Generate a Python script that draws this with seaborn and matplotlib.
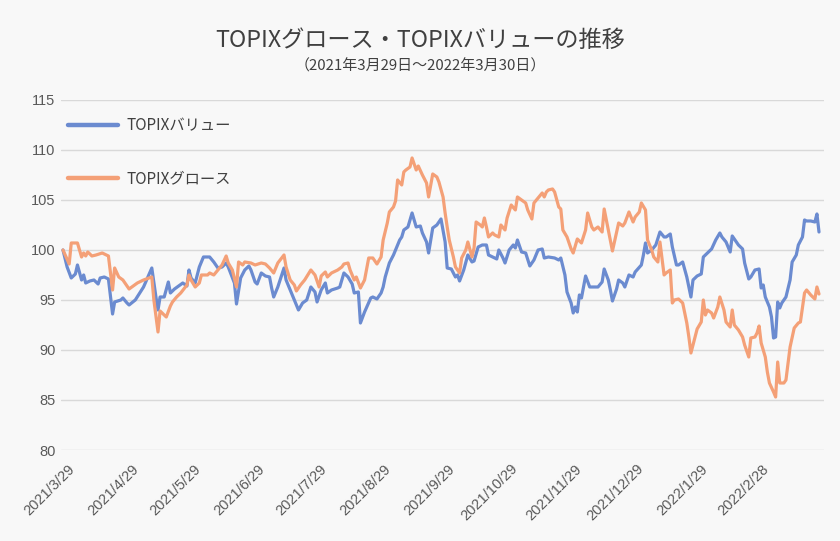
import pandas as pd
import matplotlib
matplotlib.use('Agg')
import matplotlib.pyplot as plt
import matplotlib.transforms as mtransforms
from matplotlib import font_manager
import seaborn as sns

# Series (x = calendar days since 2021-03-29)
start_date = '2021-03-29'
value_label = 'TOPIXバリュー'
growth_label = 'TOPIXグロース'

value_days = [0, 2, 4, 6, 7, 9, 10, 11, 13, 15, 17, 18, 20, 22, 24, 25, 28, 29, 31, 32,
              35, 39, 43, 45, 46, 47, 49, 51, 52, 54, 58, 60, 61, 62, 64, 66, 68, 71, 73, 75,
              77, 79, 80, 83, 84, 86, 88, 90, 91, 93, 94, 96, 98, 100, 101, 102, 104, 107, 108, 110,
              112, 114, 116, 118, 120, 122, 123, 125, 127, 128, 130, 133, 134, 136, 138, 140, 141, 143, 144, 146,
              149, 150, 152, 154, 155, 156, 158, 160, 161, 163, 164, 165, 167, 169, 171, 173, 174, 176, 177, 179,
              181, 183, 185, 186, 188, 190, 191, 192, 194, 196, 198, 199, 201, 203, 205, 206, 208, 210, 211, 213,
              214, 216, 218, 219, 220, 222, 224, 226, 228, 230, 232, 233, 235, 238, 240, 241, 243, 244, 246, 247,
              248, 249, 250, 251, 253, 255, 257, 259, 261, 262, 264, 265, 266, 268, 269, 271, 272, 274, 276, 277,
              280, 281, 282, 283, 285, 287, 289, 291, 292, 294, 295, 297, 298, 300, 302, 304, 305, 307, 309, 310,
              311, 312, 314, 316, 318, 319, 321, 323, 324, 326, 327, 329, 330, 332, 333, 335, 337, 338, 339, 340,
              342, 343, 344, 345, 346, 347, 348, 350, 352, 353, 355, 356, 358, 359, 360, 362, 364, 365, 366]
value_idx = [100.0, 98.3, 97.2, 97.6, 98.5, 97.0, 97.5, 96.7, 96.9, 97.0, 96.6, 97.2, 97.3, 97.1, 93.6, 94.8, 95.0, 95.2, 94.7, 94.5,
             95.0, 96.3, 98.2, 95.3, 94.0, 95.3, 95.3, 96.8, 95.7, 96.1, 96.7, 96.4, 98.0, 97.2, 96.7, 98.3, 99.3, 99.3, 98.8, 98.2,
             98.3, 98.7, 98.3, 96.7, 94.6, 97.2, 98.0, 98.4, 98.0, 96.8, 96.6, 97.7, 97.4, 97.3, 96.2, 95.3, 96.3, 98.2, 97.0, 96.0,
             95.0, 94.0, 94.7, 95.0, 96.3, 95.8, 94.8, 96.0, 96.7, 95.7, 96.0, 96.2, 96.3, 97.7, 97.3, 96.6, 95.7, 95.8, 92.7, 93.8,
             95.2, 95.3, 95.1, 95.7, 96.3, 97.3, 98.7, 99.5, 100.0, 101.0, 101.3, 102.0, 102.3, 103.7, 102.3, 102.4, 101.7, 100.8, 99.7, 102.2,
             102.5, 103.1, 100.8, 98.2, 98.1, 97.3, 97.5, 96.9, 98.0, 99.5, 98.8, 98.9, 100.3, 100.5, 100.5, 99.5, 99.3, 99.1, 100.0, 99.2,
             98.7, 100.0, 100.5, 100.2, 101.0, 99.8, 99.7, 98.4, 99.0, 100.0, 100.1, 99.2, 99.3, 99.2, 99.0, 99.2, 97.5, 95.8, 94.7, 93.7,
             94.3, 93.8, 95.5, 95.2, 97.4, 96.3, 96.3, 96.3, 96.8, 98.1, 97.0, 96.0, 94.9, 96.1, 97.0, 96.7, 96.3, 97.5, 97.3, 97.8,
             98.5, 99.5, 100.7, 99.7, 100.0, 100.5, 101.8, 101.3, 101.3, 101.6, 100.3, 98.5, 98.5, 98.8, 97.3, 95.3, 97.0, 97.4, 97.6, 99.3,
             99.5, 99.7, 100.1, 101.0, 101.7, 101.3, 100.8, 99.8, 101.4, 100.8, 100.5, 100.1, 98.7, 97.1, 97.3, 98.0, 98.1, 96.2, 96.5, 95.3,
             94.3, 93.3, 91.2, 91.3, 94.8, 94.2, 94.7, 95.3, 97.0, 98.8, 99.5, 100.5, 101.3, 103.0, 102.9, 102.9, 102.8, 103.6, 101.8]

growth_days = [0, 3, 4, 7, 9, 10, 11, 12, 14, 16, 19, 22, 24, 25, 27, 29, 32, 36, 39, 43,
               44, 46, 47, 49, 50, 52, 53, 55, 57, 60, 61, 62, 64, 66, 67, 70, 71, 73, 75, 77,
               79, 80, 82, 84, 85, 87, 88, 91, 93, 96, 98, 100, 102, 104, 107, 108, 110, 112, 113, 115,
               117, 120, 122, 124, 125, 127, 128, 130, 133, 135, 136, 138, 139, 141, 142, 144, 146, 148, 150, 152,
               154, 155, 157, 158, 160, 161, 162, 164, 165, 166, 168, 169, 171, 172, 174, 176, 177, 179, 181, 182,
               184, 185, 186, 187, 189, 190, 192, 193, 195, 196, 198, 199, 200, 202, 203, 204, 205, 206, 208, 209,
               211, 212, 214, 215, 217, 219, 220, 222, 224, 225, 227, 228, 230, 232, 233, 234, 235, 237, 238, 240,
               241, 242, 244, 246, 247, 249, 251, 253, 254, 256, 257, 259, 261, 262, 264, 265, 266, 268, 269, 271,
               272, 274, 276, 277, 279, 280, 282, 283, 285, 286, 288, 289, 291, 292, 294, 295, 296, 298, 300, 302,
               303, 304, 306, 307, 309, 310, 311, 312, 314, 315, 317, 318, 320, 321, 323, 324, 325, 327, 329, 330,
               332, 333, 335, 336, 337, 338, 340, 341, 342, 344, 345, 346, 347, 349, 350, 352, 354, 356, 357, 359,
               360, 362, 364, 365, 366]
growth_idx = [100.0, 98.6, 100.7, 100.7, 99.3, 99.7, 99.4, 99.8, 99.4, 99.5, 99.7, 99.4, 96.0, 98.2, 97.3, 97.0, 96.1, 96.7, 97.0, 97.3,
              95.0, 91.8, 93.9, 93.5, 93.3, 94.4, 94.8, 95.3, 95.7, 96.5, 97.5, 97.0, 96.3, 96.7, 97.5, 97.5, 97.7, 97.5, 98.0, 98.5,
              99.4, 98.7, 98.0, 96.3, 98.8, 98.5, 98.8, 98.7, 98.5, 98.7, 98.6, 98.2, 97.7, 98.7, 99.5, 98.3, 97.0, 96.5, 95.9, 96.5,
              97.0, 98.0, 97.5, 96.3, 97.4, 97.8, 97.3, 97.7, 98.0, 98.3, 98.6, 98.7, 98.0, 97.0, 97.3, 96.2, 97.0, 99.2, 99.2, 98.6,
              99.3, 101.0, 102.7, 103.8, 104.3, 104.9, 107.0, 106.5, 107.8, 108.0, 108.3, 109.2, 108.0, 108.4, 107.5, 106.7, 105.3, 107.6, 107.3, 106.8,
              105.3, 103.7, 102.3, 101.0, 99.3, 98.3, 97.7, 99.2, 100.0, 100.8, 99.3, 100.2, 102.8, 102.5, 102.3, 103.2, 102.3, 101.3, 101.7, 101.5,
              101.3, 102.5, 102.0, 103.2, 104.5, 104.0, 105.3, 105.0, 104.7, 104.0, 103.1, 104.7, 105.2, 105.7, 105.3, 105.8, 106.0, 106.1, 105.8, 104.3,
              104.1, 102.0, 101.3, 100.1, 99.7, 101.1, 100.7, 102.0, 103.7, 102.3, 102.0, 102.3, 101.8, 104.1, 102.0, 101.0, 99.9, 101.8, 102.7, 102.4,
              102.7, 103.8, 102.8, 103.3, 103.8, 104.7, 104.0, 101.0, 100.0, 99.3, 98.8, 100.8, 97.5, 97.7, 98.0, 94.7, 95.0, 95.1, 94.7, 92.7,
              91.3, 89.7, 91.3, 92.1, 92.8, 95.0, 93.5, 94.0, 93.7, 93.2, 94.3, 95.3, 94.0, 92.8, 92.3, 94.0, 92.5, 92.0, 91.3, 90.5,
              89.3, 91.2, 91.3, 91.7, 92.4, 90.7, 89.3, 87.8, 86.7, 85.8, 85.3, 88.8, 86.7, 86.7, 87.0, 90.3, 92.2, 92.7, 92.8, 95.7,
              96.0, 95.5, 95.1, 96.3, 95.6]

tick_labels = ['2021/3/29', '2021/4/29', '2021/5/29', '2021/6/29', '2021/7/29', '2021/8/29',
               '2021/9/29', '2021/10/29', '2021/11/29', '2021/12/29', '2022/1/29', '2022/2/28']
y_ticks = [80, 85, 90, 95, 100, 105, 110, 115]

title = 'TOPIXグロース・TOPIXバリューの推移'
subtitle = '（2021年3月29日～2022年3月30日）'


def to_frame(days, vals, name):
    dates = pd.Timestamp(start_date) + pd.to_timedelta(days, unit='D')
    return pd.DataFrame({'date': dates, 'idx': vals, 'series': name})


df = pd.concat([to_frame(value_days, value_idx, value_label),
                to_frame(growth_days, growth_idx, growth_label)], ignore_index=True)

sns.set_theme(style='white')
plt.rcParams['font.family'] = ['Noto Sans CJK JP', 'DejaVu Sans']

names = {f.name for f in font_manager.fontManager.ttflist}
tick_font = 'Liberation Sans Narrow' if 'Liberation Sans Narrow' in names else 'Liberation Sans'

bg = '#f8f8f8'
blue = '#6b8bd0'
orange = '#f4a077'
text_col = '#404040'

fig = plt.figure(figsize=(8.4, 5.41), dpi=100, facecolor=bg)
ax = fig.add_axes([0.0726, 0.1682, 0.9083, 0.6470])
ax.set_facecolor(bg)

sns.lineplot(data=df, x='date', y='idx', hue='series', hue_order=[value_label, growth_label],
             palette=[blue, orange], linewidth=2.3, estimator=None, ax=ax)

start = pd.Timestamp(start_date)
ax.set_xlim(start - pd.Timedelta(days=0.97), start + pd.Timedelta(days=368.4))
ax.set_ylim(80, 115)
ax.set_yticks(y_ticks)
ax.set_xticks(pd.to_datetime(tick_labels, format='%Y/%m/%d'))
ax.set_xticklabels(tick_labels, rotation=45, ha='right', va='center', rotation_mode='anchor')
ax.set_xlabel('')
ax.set_ylabel('')

ax.grid(axis='y', color='#d9d9d9', linewidth=1)
ax.grid(axis='x', visible=False)
for s in ax.spines.values():
    s.set_visible(False)
ax.tick_params(axis='both', length=0, colors='#595959', labelsize=10.5)
ax.tick_params(axis='y', pad=4)
ax.tick_params(axis='x', pad=12)
for lab in ax.get_xticklabels() + ax.get_yticklabels():
    lab.set_fontfamily(tick_font)
shift = mtransforms.ScaledTranslation(10 / 100, 0, fig.dpi_scale_trans)
for lab in ax.get_xticklabels():
    lab.set_transform(lab.get_transform() + shift)

handles, labels = ax.get_legend_handles_labels()
leg = ax.legend(handles, labels, loc='upper left', bbox_to_anchor=(0.0092, 0.951),
                frameon=False, fontsize=11, labelspacing=2.36, handlelength=3.3,
                handletextpad=0.55, borderpad=0, borderaxespad=0)
for line in leg.get_lines():
    line.set_linewidth(3.2)
for t in leg.get_texts():
    t.set_color(text_col)

fig.text(0.5, 0.926, title, ha='center', va='center', fontsize=16.7, color=text_col)
fig.text(0.5, 0.878, subtitle, ha='center', va='center', fontsize=10.8, color=text_col)

fig.savefig('out.png', dpi=100, facecolor=bg)
